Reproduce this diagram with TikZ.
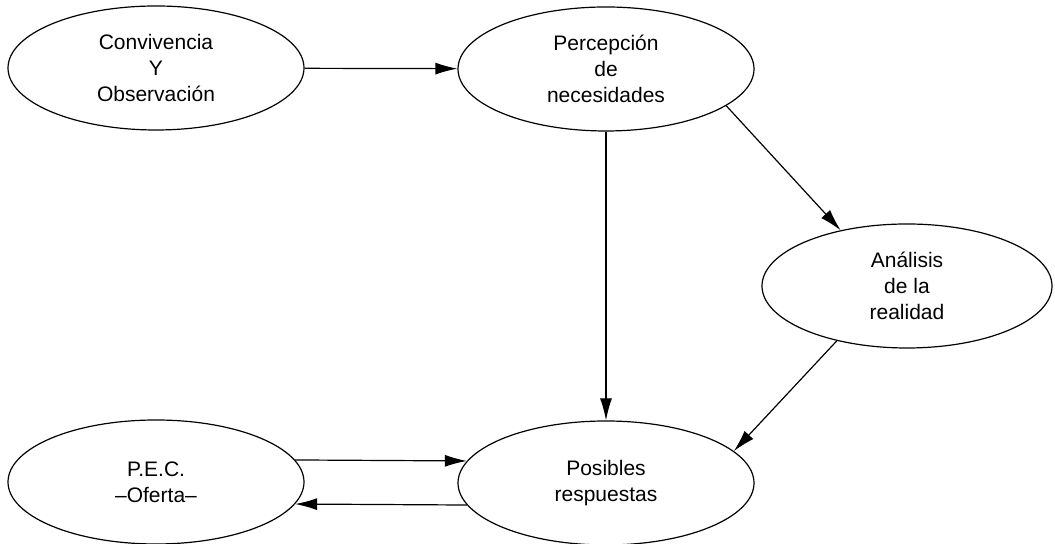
\documentclass[tikz,border=0pt]{standalone}
\usepackage{fontspec}
\setmainfont{Liberation Sans}
\usetikzlibrary{shapes.geometric,arrows.meta}
\begin{document}
\begin{tikzpicture}
  [x=50pt,y=50pt,>={Latex[length=11pt,width=6pt]},
   every node/.style={ellipse,draw,line width=0.6pt,inner sep=0pt,
     minimum width=148pt,minimum height=62pt,align=center,
     font=\fontsize{10.5}{13}\selectfont}]
  \useasboundingbox (0,0) rectangle (10.55,5.44);
  \node (conv) at (1.56,4.76) {Convivencia\\Y\\Observación};
  \node (perc) at (6.06,4.75) {Percepción\\de\\necesidades};
  \node[minimum width=145pt] (anal) at (9.07,2.58) {Análisis\\de la\\realidad};
  \node (pec) at (1.56,0.62) {P.E.C.\\--Oferta--};
  \node (posib) at (6.06,0.61) {Posibles\\respuestas};
 \path[->,line width=0.6pt]
        (conv) edge (perc)
        (perc.-17) edge (anal.140)
        (perc) edge (posib)
        (anal.218) edge (posib.14)
        (pec.9) edge (posib.171)
        (posib.189) edge (pec.351);

\end{tikzpicture}
\end{document}
